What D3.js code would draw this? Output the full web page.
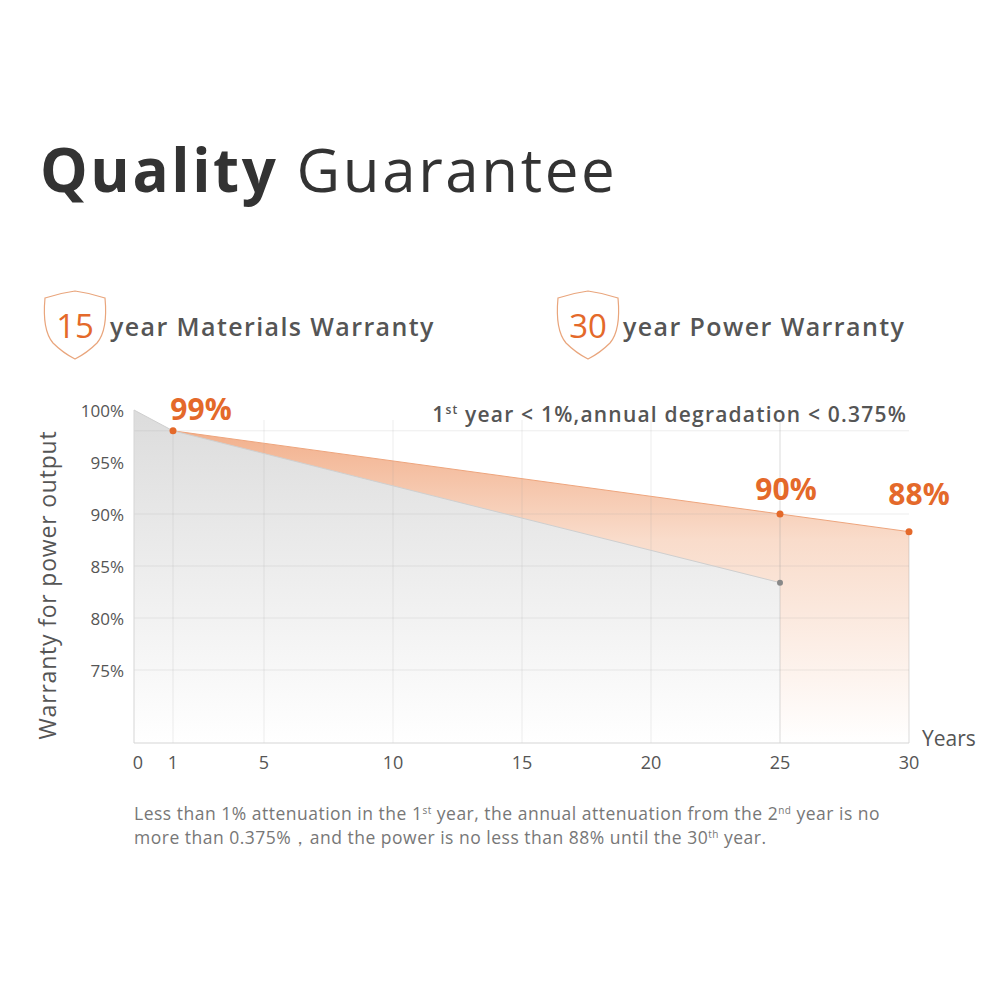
<!DOCTYPE html>
<html><head><meta charset="utf-8">
<script src="https://cdn.jsdelivr.net/npm/d3@7"></script>
<style>
body{margin:0;background:#fff;}
text{font-family:"Open Sans",sans-serif;}
</style></head>
<body><svg id="chart" width="1000" height="1000"></svg>
<script>
const xTicks = [0, 1, 5, 10, 15, 20, 25, 30];
const yTicks = [100, 95, 90, 85, 80, 75];
const gridY = [98, 90, 85, 80, 75];
const warrantyYears = [1, 25, 30];
const warrantyValues = [98, 90, 88.3];
const warrantyLabels = ["99%", "90%", "88%"];
const standardYears = [0, 1, 25];
const standardValues = [100, 98, 83.4];

const orange = "#e4692a";
const svg = d3.select("#chart");

// x axis isn't evenly spaced in the picture between 0 and 1
const x = d3.scaleLinear().domain([0, 1, 5, 30]).range([134, 173, 264, 909]);
const y = d3.scaleLinear().domain([100, 75]).range([410, 670]);
const yBottom = 743;

// title
const title = svg.append("text").attr("x", 40).attr("y", 192).attr("font-size", 60)
  .attr("letter-spacing", 2.6).attr("fill", "#333");
title.append("tspan").attr("font-weight", 700).text("Quality");
title.append("tspan").attr("font-weight", 400).text(" Guarantee");

// shields
function shield(cx, num, label) {
  const g = svg.append("g").attr("transform", `translate(${cx},295)`);
  g.append("path")
    .attr("d", "M0,3 Q15,-2 30,-4 Q45,-2 60,3 Q63,35 52,48 Q42,58 30,64 Q18,58 8,48 Q-3,35 0,3 Z")
    .attr("fill", "none").attr("stroke", "#e9a57c").attr("stroke-width", 1.2);
  g.append("text").attr("x", 30).attr("y", 43).attr("text-anchor", "middle")
    .attr("font-size", 33).attr("fill", orange).text(num);
  g.append("text").attr("x", 65).attr("y", 41).attr("font-size", 25)
    .attr("letter-spacing", 1.4).attr("font-weight", 600).attr("fill", "#555").text(label);
}
shield(45, "15", "year Materials Warranty");
shield(558, "30", "year Power Warranty");

// gradients
const defs = svg.append("defs");
const gg = defs.append("linearGradient").attr("id", "grey").attr("x1", 0).attr("x2", 0).attr("y1", 0).attr("y2", 1);
gg.append("stop").attr("offset", "0%").attr("stop-color", "#dcdcdc");
gg.append("stop").attr("offset", "100%").attr("stop-color", "#ffffff");
const og = defs.append("linearGradient").attr("id", "orng").attr("x1", 0).attr("x2", 0).attr("y1", 0).attr("y2", 1);
og.append("stop").attr("offset", "0%").attr("stop-color", "#f2b08c");
og.append("stop").attr("offset", "35%").attr("stop-color", "#f9dccb");
og.append("stop").attr("offset", "100%").attr("stop-color", "#ffffff");

const warranty = warrantyYears.map((d, i) => ({yr: d, v: warrantyValues[i]}));
const standard = standardYears.map((d, i) => ({yr: d, v: standardValues[i]}));

const area = d3.area().x(d => x(d.yr)).y0(yBottom).y1(d => y(d.v));
svg.append("path").datum(warranty).attr("d", area).attr("fill", "url(#orng)");
svg.append("path").datum(standard).attr("d", area).attr("fill", "url(#grey)");

// grid
svg.selectAll("line.hgrid").data(gridY).enter().append("line")
  .attr("x1", 134).attr("x2", 909).attr("y1", d => y(d)).attr("y2", d => y(d))
  .attr("stroke", "#999").attr("stroke-opacity", 0.18);
svg.selectAll("line.vgrid").data(xTicks.slice(1)).enter().append("line")
  .attr("x1", d => x(d)).attr("x2", d => x(d))
  .attr("y1", d => d === 30 ? y(88.3) : (d === 1 ? y(98) : 420)).attr("y2", yBottom)
  .attr("stroke", "#999").attr("stroke-opacity", d => d >= 25 ? 0.35 : 0.18);

// axes
svg.append("line").attr("x1", 134).attr("x2", 909).attr("y1", yBottom).attr("y2", yBottom).attr("stroke", "#d5d5d5");
svg.append("line").attr("x1", 134).attr("x2", 134).attr("y1", 410).attr("y2", yBottom).attr("stroke", "#d5d5d5");

const line = d3.line().x(d => x(d.yr)).y(d => y(d.v));
svg.append("path").datum(warranty).attr("d", line).attr("fill", "none").attr("stroke", "#eea57d").attr("stroke-width", 1);
svg.append("path").datum(standard).attr("d", line).attr("fill", "none").attr("stroke", "#cfcfcf").attr("stroke-width", 1);

svg.selectAll("text.xt").data(xTicks).enter().append("text")
  .attr("x", d => x(d) + (d === 0 ? 4 : 0)).attr("y", 769).attr("text-anchor", "middle")
  .attr("font-size", 18).attr("fill", "#555").text(d => d);
svg.selectAll("text.yt").data(yTicks).enter().append("text")
  .attr("x", 124).attr("y", d => y(d) + 7).attr("text-anchor", "end")
  .attr("font-size", 17).attr("fill", "#555").text(d => d + "%");

svg.append("text").attr("x", 922).attr("y", 746).attr("font-size", 21).attr("fill", "#555").text("Years");
svg.append("text").attr("transform", "translate(56,585) rotate(-90)").attr("text-anchor", "middle")
  .attr("font-size", 23).attr("letter-spacing", 0.8).attr("fill", "#555").text("Warranty for power output");

// points
svg.append("circle").attr("cx", x(25)).attr("cy", y(83.4)).attr("r", 3).attr("fill", "#888");
svg.selectAll("circle.w").data(warranty).enter().append("circle")
  .attr("cx", d => x(d.yr)).attr("cy", d => y(d.v)).attr("r", 3.5).attr("fill", orange);
const labelDx = [28, 6, 10];
const labelDy = [-11, -14, -27];
svg.selectAll("text.wl").data(warranty).enter().append("text")
  .attr("x", (d, i) => x(d.yr) + labelDx[i]).attr("y", (d, i) => y(d.v) + labelDy[i])
  .attr("text-anchor", "middle").attr("font-size", 30).attr("font-weight", 700)
  .attr("fill", orange).text((d, i) => warrantyLabels[i]);

// note
const note = svg.append("text").attr("x", 907).attr("y", 422).attr("text-anchor", "end")
  .attr("font-size", 21).attr("letter-spacing", 1.2).attr("font-weight", 600).attr("fill", "#555");
note.append("tspan").text("1");
note.append("tspan").attr("font-size", 12).attr("dy", -8).text("st");
note.append("tspan").attr("dy", 8).text(" year < 1%,annual degradation < 0.375%");

// footnote
const f1 = svg.append("text").attr("x", 134).attr("y", 820).attr("font-size", 17.5)
  .attr("letter-spacing", 0.5).attr("fill", "#777");
f1.append("tspan").text("Less than 1% attenuation in the 1");
f1.append("tspan").attr("font-size", 10).attr("dy", -6).text("st");
f1.append("tspan").attr("dy", 6).text(" year, the annual attenuation from the 2");
f1.append("tspan").attr("font-size", 10).attr("dy", -6).text("nd");
f1.append("tspan").attr("dy", 6).text(" year is no");
const f2 = svg.append("text").attr("x", 134).attr("y", 844).attr("font-size", 17.5)
  .attr("letter-spacing", 0.5).attr("fill", "#777");
f2.append("tspan").text("more than 0.375%，and the power is no less than 88% until the 30");
f2.append("tspan").attr("font-size", 10).attr("dy", -6).text("th");
f2.append("tspan").attr("dy", 6).text(" year.");
</script></body></html>
